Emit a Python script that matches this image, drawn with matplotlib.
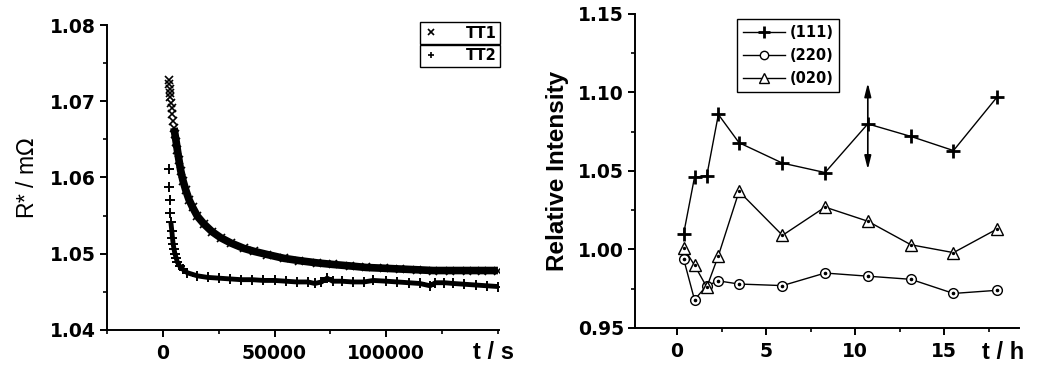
import numpy as np
import matplotlib
matplotlib.use('Agg')
import matplotlib.pyplot as plt
from matplotlib.lines import Line2D
from matplotlib.ticker import MultipleLocator, FixedLocator, FormatStrFormatter

# ---- left panel: R* vs t (s) ----
tt1_t = [2600, 2800, 3000, 3200, 3400, 3600, 3900, 4200, 4600, 5000, 5400, 6000, 6500,
         7200, 8000, 9000, 10300, 11700, 13300, 15500, 18400, 22000, 25900, 30500, 36300,
         41000, 46700, 54200, 61000, 69100, 76000, 83900, 91000, 98800, 106000, 113700,
         121000, 128600, 136000, 143000, 150000]
tt1_r = [1.0728, 1.0722, 1.0716, 1.0711, 1.0705, 1.0698, 1.0691, 1.0683, 1.0674, 1.0665,
         1.0657, 1.0646, 1.0636, 1.0623, 1.0609, 1.0596, 1.0583, 1.0571, 1.0561, 1.0549,
         1.0539, 1.0529, 1.0521, 1.0514, 1.0507, 1.0503, 1.0499, 1.0494, 1.0491, 1.0488,
         1.0486, 1.0484, 1.0482, 1.0481, 1.0480, 1.0479, 1.0478, 1.0478, 1.0478, 1.0478,
         1.0478]

tt2_t = [2700, 2850, 3100, 3300, 3600, 4000, 4300, 4600, 5000, 5400, 6000, 6500, 7500,
         8800, 11000, 15500, 20000, 25000, 30000, 35000, 40000, 45000, 50000, 55000, 60000,
         65000, 68000, 71000, 73500, 76000, 80000, 85000, 90000, 94200, 100000, 105000,
         110000, 115000, 119600, 122000, 126000, 130000, 135000, 140000, 145000, 150000]
tt2_r = [1.0611, 1.0588, 1.0570, 1.0554, 1.0541, 1.0530, 1.0521, 1.0513, 1.0506, 1.0500,
         1.0494, 1.0489, 1.0484, 1.0480, 1.0475, 1.0471, 1.0469, 1.0468, 1.0467, 1.0466,
         1.0466, 1.0465, 1.0465, 1.0464, 1.0463, 1.0463, 1.0461, 1.0463, 1.0468, 1.0464,
         1.0464, 1.0463, 1.0463, 1.0465, 1.0464, 1.0463, 1.0462, 1.0461, 1.0458, 1.0462,
         1.0462, 1.0461, 1.0460, 1.0459, 1.0458, 1.0457]

# ---- right panel: relative intensity vs t (h) ----
t_h = [0.37, 0.98, 1.67, 2.32, 3.48, 5.92, 8.31, 10.71, 13.13, 15.52, 17.96]
i_111 = [1.010, 1.046, 1.047, 1.086, 1.068, 1.055, 1.049, 1.080, 1.072, 1.063, 1.097]
i_220 = [0.994, 0.968, 0.977, 0.980, 0.978, 0.977, 0.985, 0.983, 0.981, 0.972, 0.974]
i_020 = [1.001, 0.990, 0.976, 0.996, 1.037, 1.009, 1.027, 1.018, 1.003, 0.998, 1.013]
err_t = 10.71
err_lo, err_hi = 1.051, 1.106

TICK_FONT = dict(family='DejaVu Sans', weight='bold', size=13.5)
LABEL_FONT = 'Liberation Sans'

fig = plt.figure(figsize=(10.41, 3.65), dpi=100)
ax1 = fig.add_axes([0.1028, 0.0959, 0.3766, 0.8356])
ax2 = fig.add_axes([0.6100, 0.1014, 0.3689, 0.8603])


def style_axes(ax):
    for side in ('top', 'right'):
        ax.spines[side].set_visible(False)
    for side in ('left', 'bottom'):
        ax.spines[side].set_linewidth(1.4)
    ax.tick_params(which='major', direction='out', length=5, width=1.4)
    ax.tick_params(which='minor', direction='out', length=3, width=1.2)
    ax.tick_params(axis='x', which='major', pad=5)
    ax.tick_params(axis='y', which='major', pad=3)
    for lab in ax.get_xticklabels() + ax.get_yticklabels():
        lab.set_fontproperties(matplotlib.font_manager.FontProperties(**TICK_FONT))


# left panel: scattered markers; the dense tail merges into a thick band
ax1.plot(tt1_t, tt1_r, color='black', ls='none', marker='x', ms=6, mew=1.2)
ax1.plot(tt1_t[9:], tt1_r[9:], color='black', lw=5.5, solid_capstyle='butt')
ax1.plot(tt2_t, tt2_r, color='black', ls='none', marker='+', ms=6.5, mew=1.4)
ax1.plot(tt2_t[4:], tt2_r[4:], color='black', lw=3.5, solid_capstyle='butt')
ax1.set_xlim(-25000, 150500)
ax1.set_ylim(1.04, 1.08)
ax1.xaxis.set_major_locator(FixedLocator([0, 50000, 100000]))
ax1.xaxis.set_minor_locator(MultipleLocator(25000))
ax1.yaxis.set_major_locator(MultipleLocator(0.01))
ax1.yaxis.set_minor_locator(MultipleLocator(0.005))
ax1.yaxis.set_major_formatter(FormatStrFormatter('%.2f'))
style_axes(ax1)
ax1.set_ylabel('R* / m$\\Omega$', family=LABEL_FONT, fontsize=16.5, labelpad=8)
ax1.text(0.985, -0.075, 't / s', transform=ax1.transAxes, ha='center', va='center',
         family=LABEL_FONT, weight='bold', fontsize=17)

leg_kw = dict(frameon=True, fancybox=False, edgecolor='black', framealpha=1,
              handlelength=1.0, handletextpad=1.9, borderpad=0.25, borderaxespad=0,
              prop=dict(family='DejaVu Sans', weight='bold', size=10.5))
p1 = Line2D([], [], color='black', ls='none', marker='x', ms=5, mew=1.2)
p2 = Line2D([], [], color='black', ls='none', marker='+', ms=5, mew=1.2)
leg1 = ax1.legend([p1], ['TT1'], loc='upper right', bbox_to_anchor=(1.003, 1.01), **leg_kw)
ax1.add_artist(leg1)
leg2 = ax1.legend([p2], ['TT2'], loc='upper right', bbox_to_anchor=(1.003, 0.935), **leg_kw)
for lg in (leg1, leg2):
    lg.get_frame().set_linewidth(1.0)

# right panel
ax2.plot(t_h, i_111, color='black', lw=1.0, marker='+', ms=10, mew=2.0)
ax2.plot(t_h, i_220, color='black', lw=1.0, marker='o', ms=7, mew=1.0, mfc='white')
ax2.plot(t_h, i_220, color='black', ls='none', marker='o', ms=1.6)
ax2.plot(t_h, i_020, color='black', lw=1.0, marker='^', ms=8, mew=1.0, mfc='white')
ax2.plot(t_h, i_020, color='black', ls='none', marker='o', ms=1.4)
ax2.annotate('', xy=(err_t, err_hi), xytext=(err_t, err_lo),
             arrowprops=dict(arrowstyle='<|-|>,head_length=0.8,head_width=0.2',
                             color='black', lw=1.2, shrinkA=0, shrinkB=0))
ax2.set_xlim(-2.36, 19.2)
ax2.set_ylim(0.95, 1.15)
ax2.xaxis.set_major_locator(FixedLocator([0, 5, 10, 15]))
ax2.xaxis.set_minor_locator(MultipleLocator(2.5))
ax2.yaxis.set_major_locator(MultipleLocator(0.05))
ax2.yaxis.set_minor_locator(MultipleLocator(0.025))
ax2.yaxis.set_major_formatter(FormatStrFormatter('%.2f'))
style_axes(ax2)
ax2.set_ylabel('Relative Intensity', family=LABEL_FONT, weight='bold', fontsize=17.5,
               labelpad=6)
ax2.text(0.958, -0.077, 't / h', transform=ax2.transAxes, ha='center', va='center',
         family=LABEL_FONT, weight='bold', fontsize=17)

# legend handles: smaller markers than the data
lh = [Line2D([], [], color='black', lw=1.0, marker='+', ms=9, mew=2.0),
      Line2D([], [], color='black', lw=1.0, marker='o', ms=6, mew=1.0, mfc='white'),
      Line2D([], [], color='black', lw=1.0, marker='^', ms=7, mew=1.0, mfc='white')]
leg = ax2.legend(lh, ['(111)', '(220)', '(020)'],
                 loc='upper left', bbox_to_anchor=(0.266, 0.983), frameon=True,
                 fancybox=False, edgecolor='black', framealpha=1, handlelength=2.9,
                 handletextpad=0.3, borderpad=0.4, borderaxespad=0, labelspacing=0.55,
                 prop=dict(family='DejaVu Sans', weight='bold', size=10.5))
leg.get_frame().set_linewidth(1.0)

fig.savefig('out.png', dpi=100)
